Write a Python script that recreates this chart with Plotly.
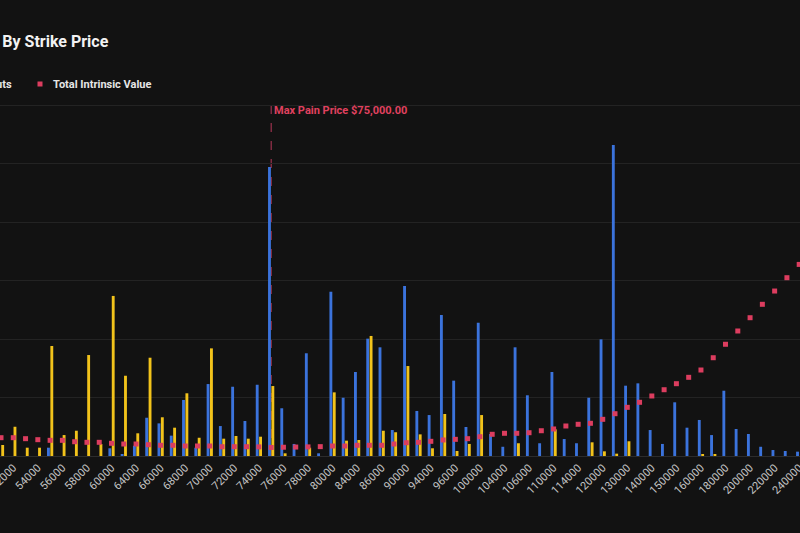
import plotly.graph_objects as go

strikes = [51000, 52000, 53000, 54000, 55000, 56000, 57000, 58000, 59000, 60000,
           62000, 64000, 65000, 66000, 67000, 68000, 69000, 70000, 71000, 72000,
           73000, 74000, 75000, 76000, 77000, 78000, 79000, 80000, 82000, 84000,
           85000, 86000, 88000, 90000, 92000, 94000, 95000, 96000, 98000, 100000,
           102000, 104000, 105000, 106000, 108000, 110000, 112000, 114000, 115000, 120000,
           125000, 130000, 135000, 140000, 145000, 150000, 155000, 160000, 170000, 180000,
           190000, 200000, 210000, 220000, 230000, 240000]

calls_oi = [0, 0, 0, 0, 71, 0, 0, 0, 0, 66,
            9, 88, 327, 279, 174, 479, 71, 615, 256, 592,
            299, 609, 2470, 408, 103, 878, 23, 1404, 498, 718,
            1003, 929, 222, 1453, 385, 350, 1205, 644, 248, 1139,
            188, 79, 929, 519, 109, 718, 145, 109, 498, 997,
            2658, 601, 621, 222, 103, 459, 242, 308, 179, 558,
            231, 188, 79, 51, 43, 37]

puts_oi = [94, 250, 71, 71, 940, 179, 216, 863, 103, 1368,
           686, 194, 840, 331, 242, 536, 156, 920, 148, 171,
           148, 165, 598, 23, 0, 71, 0, 544, 131, 137,
           1026, 216, 203, 769, 185, 66, 359, 43, 103, 350,
           0, 0, 109, 0, 0, 228, 0, 0, 117, 40,
           20, 126, 0, 0, 0, 0, 0, 9, 9, 0,
           0, 0, 0, 0, 0, 0]

intrinsic_value = [31.3, 31.3, 29.6, 27.9, 26.8, 26.8, 24.4, 23.4, 23.4, 21.7,
                   20.5, 20.5, 19.3, 18.3, 18.3, 17.1, 17.1, 17.1, 15.9, 15.9,
                   15.9, 15.6, 14.6, 15.0, 15.3, 15.6, 16.0, 17.1, 17.1, 18.3,
                   18.3, 18.3, 20.5, 22.7, 23.4, 25.1, 27.4, 28.5, 29.6, 33.0,
                   37.1, 38.8, 38.8, 39.8, 43.2, 46.2, 51.3, 54.2, 55.9, 62.7,
                   72.3, 83.2, 91.8, 102.6, 113.3, 123.6, 134.5, 147.0, 168.0, 191.0,
                   213.7, 236.4, 259.3, 282.0, 304.8, 327.5]

max_pain_strike = 75000
tick_labels = [str(s) for s in strikes[1::2]]

cats = [str(s) for s in strikes]

W, H = 800, 533
ML, MR, MT, MB = 0, 0, 103, 77
PW, PH = W - ML - MR, H - MT - MB
BASE = H - MB          # pixel row of the zero line
GRID_TOP = 105         # pixel row of the top grid line
Y_MAX = 3000.0
Y2_MAX = 600.0
yr = Y_MAX * (BASE - MT) / (BASE - GRID_TOP)
y2r = Y2_MAX * (BASE - MT) / (BASE - GRID_TOP)


def px_x(px):
    return (px - ML) / PW


def px_y(py):
    return (H - MB - py) / PH


BG = "#121212"
FONT = "Roboto"

fig = go.Figure()
fig.add_trace(go.Bar(x=cats, y=calls_oi, name="Calls", marker_color="#3b73dc",
                     marker_line_width=0))
fig.add_trace(go.Bar(x=cats, y=puts_oi, name="Puts", marker_color="#f2c31b",
                     marker_line_width=0))
fig.add_trace(go.Scatter(x=cats, y=intrinsic_value, name="Total Intrinsic Value",
                         mode="markers", yaxis="y2",
                         marker=dict(symbol="square", size=5, color="#dc3d5f")))

cat_w = 12.28
x0 = -1.0 / cat_w
x1 = x0 + PW / cat_w

fig.update_layout(
    width=W, height=H,
    paper_bgcolor=BG, plot_bgcolor=BG,
    margin=dict(l=ML, r=MR, t=MT, b=MB, autoexpand=False),
    showlegend=False,
    barmode="group", bargap=0.45, bargroupgap=0.15,
    font=dict(family=FONT, color="#d0d0d0"),
    xaxis=dict(type="category", range=[x0, x1], tickmode="array",
               tickvals=tick_labels, ticktext=tick_labels, tickangle=-45,
               tickfont=dict(size=11, color="#c4c4c4"), showgrid=False,
               showline=True, linecolor="#2c2c2c", linewidth=1,
               ticks="", automargin=False, fixedrange=True),
    yaxis=dict(range=[0, yr], tick0=0, dtick=500, showgrid=True, gridcolor="#232323",
               gridwidth=1, showticklabels=False, zeroline=False, ticks="",
               automargin=False),
    yaxis2=dict(range=[0, y2r], overlaying="y", side="right", showgrid=False,
                showticklabels=False, zeroline=False, ticks="", automargin=False),
)

mp_idx = strikes.index(max_pain_strike)
fig.add_shape(type="line", xref="x", yref="y", x0=mp_idx, x1=mp_idx,
              y0=0, y1=Y_MAX,
              line=dict(color="#b8395a", width=1, dash="dash"),
              layer="below")

fig.add_annotation(text="Max Pain Price $%s" % format(max_pain_strike, ",.2f"),
                   xref="paper", yref="paper", x=px_x(272), y=px_y(111),
                   xanchor="left", yanchor="middle", showarrow=False,
                   font=dict(family=FONT, size=11, color="#e0415f", weight="bold"))

# title (partly off the left edge, as in the reference)
fig.add_annotation(text="<b>Open Interest By Strike Price</b>", xref="paper", yref="paper",
                   x=px_x(111), y=px_y(42), xanchor="right", yanchor="middle",
                   showarrow=False, font=dict(family=FONT, size=16, color="#f2f2f2"))

# legend row
fig.add_annotation(text="<b>Puts</b>", xref="paper", yref="paper",
                   x=px_x(14), y=px_y(84), xanchor="right", yanchor="middle",
                   showarrow=False, font=dict(family=FONT, size=11, color="#e6e6e6"))
fig.add_shape(type="rect", xref="paper", yref="paper",
              x0=px_x(37.5), x1=px_x(42.5), y0=px_y(86.5), y1=px_y(81.5),
              fillcolor="#dc3d5f", line_width=0)
fig.add_annotation(text="<b>Total Intrinsic Value</b>", xref="paper", yref="paper",
                   x=px_x(51), y=px_y(84), xanchor="left", yanchor="middle",
                   showarrow=False, font=dict(family=FONT, size=11, color="#e6e6e6"))

fig.write_html("out.html", config={"displayModeBar": False})
